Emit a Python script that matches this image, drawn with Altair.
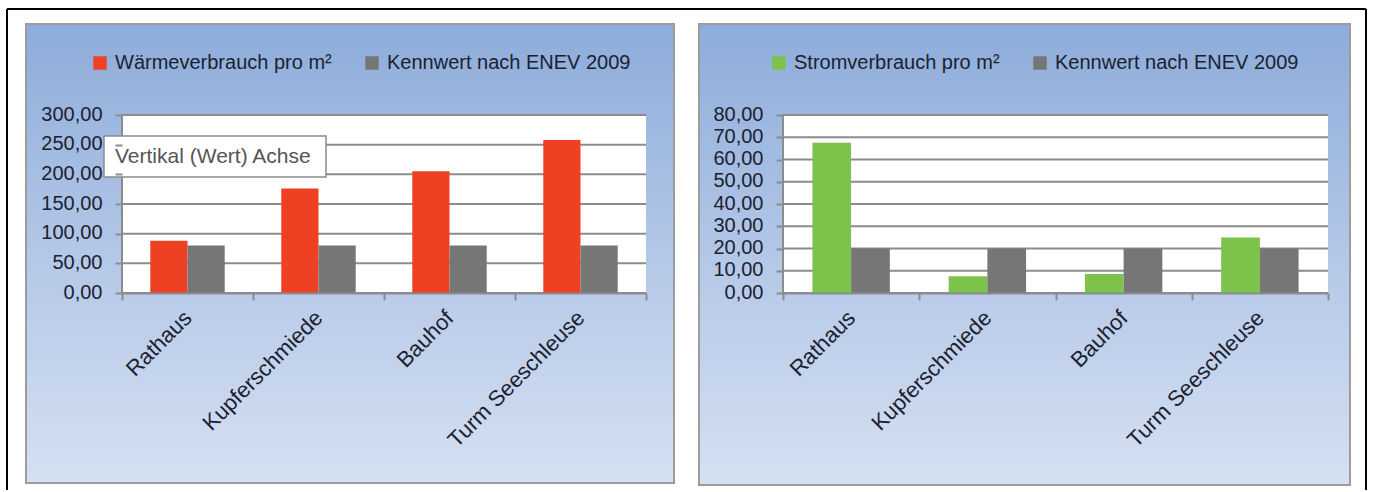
import altair as alt
import pandas as pd

categories = ["Rathaus", "Kupferschmiede", "Bauhof", "Turm Seeschleuse"]
series_waerme = "Wärmeverbrauch pro m²"
series_strom = "Stromverbrauch pro m²"
series_kenn = "Kennwert nach ENEV 2009"
waerme_values = [88, 176, 205, 258]
waerme_kennwert = [80, 80, 80, 80]
strom_values = [67.5, 7.5, 8.5, 25]
strom_kennwert = [20, 20, 20, 20]
waerme_ticks = [0, 50, 100, 150, 200, 250, 300]
strom_ticks = [0, 10, 20, 30, 40, 50, 60, 70, 80]
tooltip_text = "Vertikal (Wert) Achse"

RED = "#ee4123"
GREEN = "#7dc24b"
GRAY = "#767676"
GRID = "#8c8c8c"
TXT = "#1c2130"
FONT = "Liberation Sans"

H = 178
one = pd.DataFrame({"k": [0]})


def panel(values, kennwert, series_name, color, ticks, ymax, W, legend_x, rect, extra=None):
    rows = []
    for c, v, k in zip(categories, values, kennwert):
        rows.append({"cat": c, "series": series_name, "value": v})
        rows.append({"cat": c, "series": series_kenn, "value": k})
    df = pd.DataFrame(rows)
    grid_df = pd.DataFrame({"value": ticks})
    yscale = alt.Scale(domain=[0, ymax], nice=False)
    yaxis = alt.Axis(
        values=ticks, title=None, grid=False, domain=False, ticks=True, tickSize=7,
        tickColor=GRID, tickWidth=2, labelPadding=13, labelFont=FONT, labelFontSize=20,
        labelColor=TXT, labelOverlap=False, labelBaseline="middle", labelOffset=-1, zindex=1,
        labelExpr="replace(format(datum.value, '.2f'), '.', ',')",
    )
    x0, x1, y0, y1 = rect
    bg = alt.Chart(one).mark_rect(
        color=alt.Gradient(
            gradient="linear",
            stops=[
                alt.GradientStop(color="#8dacda", offset=0),
                alt.GradientStop(color="#b3c7e7", offset=0.5),
                alt.GradientStop(color="#d5e0f2", offset=1),
            ],
            x1=0, x2=0, y1=0, y2=1,
        ),
        stroke="#9c9c9c", strokeWidth=2,
    ).encode(x=alt.value(x0), x2=alt.value(x1), y=alt.value(y0), y2=alt.value(y1))
    plot_bg = alt.Chart(one).mark_rect(color="white").encode(
        x=alt.value(0), x2=alt.value(W), y=alt.value(0), y2=alt.value(H)
    )
    grid = alt.Chart(grid_df).mark_rule(color=GRID, strokeWidth=2).encode(
        y=alt.Y("value:Q", scale=yscale, axis=yaxis), x=alt.value(0), x2=alt.value(W)
    )
    ydomain = alt.Chart(one).mark_rule(color=GRID, strokeWidth=2).encode(
        x=alt.value(0), y=alt.value(0), y2=alt.value(H)
    )
    bars = alt.Chart(df).mark_bar().encode(
        x=alt.X(
            "cat:N", sort=categories, scale=alt.Scale(paddingInner=0, paddingOuter=0),
            axis=alt.Axis(
                title=None, grid=False, domain=True, domainColor=GRID, domainWidth=2,
                ticks=True, tickBand="extent", tickSize=7, tickColor=GRID, tickWidth=2,
                labelAngle=-45, labelAlign="right", labelBaseline="middle", labelPadding=14,
                labelFont=FONT, labelFontSize=22, labelColor=TXT, labelLimit=400, zindex=1,
            ),
        ),
        xOffset=alt.XOffset(
            "series:N", sort=[series_name, series_kenn],
            scale=alt.Scale(paddingOuter=0.76, paddingInner=0),
        ),
        y=alt.Y("value:Q", scale=yscale, axis=yaxis),
        color=alt.Color(
            "series:N",
            scale=alt.Scale(domain=[series_name, series_kenn], range=[color, GRAY]),
            legend=alt.Legend(
                orient="none", legendX=legend_x, legendY=-62, direction="horizontal",
                columns=2, symbolType="square", symbolSize=180, symbolStrokeWidth=0,
                labelFont=FONT, labelFontSize=20, labelColor=TXT, labelOffset=5,
                columnPadding=30, labelLimit=400, title=None,
            ),
        ),
    )
    layers = [bg, plot_bg, grid, ydomain, bars]
    if extra:
        layers += extra
    return alt.layer(*layers).properties(width=W, height=H)


tip_box = alt.Chart(one).mark_rect(color="white", stroke="#8a8a8a", strokeWidth=1.5).encode(
    x=alt.value(-18), x2=alt.value(204), y=alt.value(21), y2=alt.value(62)
)
tip_text = alt.Chart(pd.DataFrame({"t": [tooltip_text]})).mark_text(
    align="left", baseline="middle", font=FONT, fontSize=21, color="#555555"
).encode(text="t:N", x=alt.value(-7), y=alt.value(42))

frame_left = alt.Chart(one).mark_rule(color="black", strokeWidth=2).encode(
    x=alt.value(-115), y=alt.value(-106), y2=alt.value(375)
)
frame_top = alt.Chart(one).mark_rule(color="black", strokeWidth=2).encode(
    x=alt.value(-115), x2=alt.value(1244), y=alt.value(-106)
)
frame_right = alt.Chart(one).mark_rule(color="black", strokeWidth=2).encode(
    x=alt.value(1244), y=alt.value(-106), y2=alt.value(375)
)

left = panel(
    waerme_values, waerme_kennwert, series_waerme, RED, waerme_ticks, 300, 524, -32,
    (-96, 552, -91, 368), [tip_box, tip_text, frame_left, frame_top, frame_right],
)
right = panel(
    strom_values, strom_kennwert, series_strom, GREEN, strom_ticks, 80, 545, -14,
    (-84, 567, -91, 370),
)

chart = (
    alt.hconcat(left, right, spacing=137, bounds="flush")
    .resolve_scale(x="independent", y="independent", color="independent", xOffset="independent")
    .configure_view(stroke=None)
    .properties(padding={"left": 6, "top": 8, "right": 0, "bottom": 0}, background="white")
)

chart.save("out.html", embed_options={"renderer": "svg", "actions": False})
